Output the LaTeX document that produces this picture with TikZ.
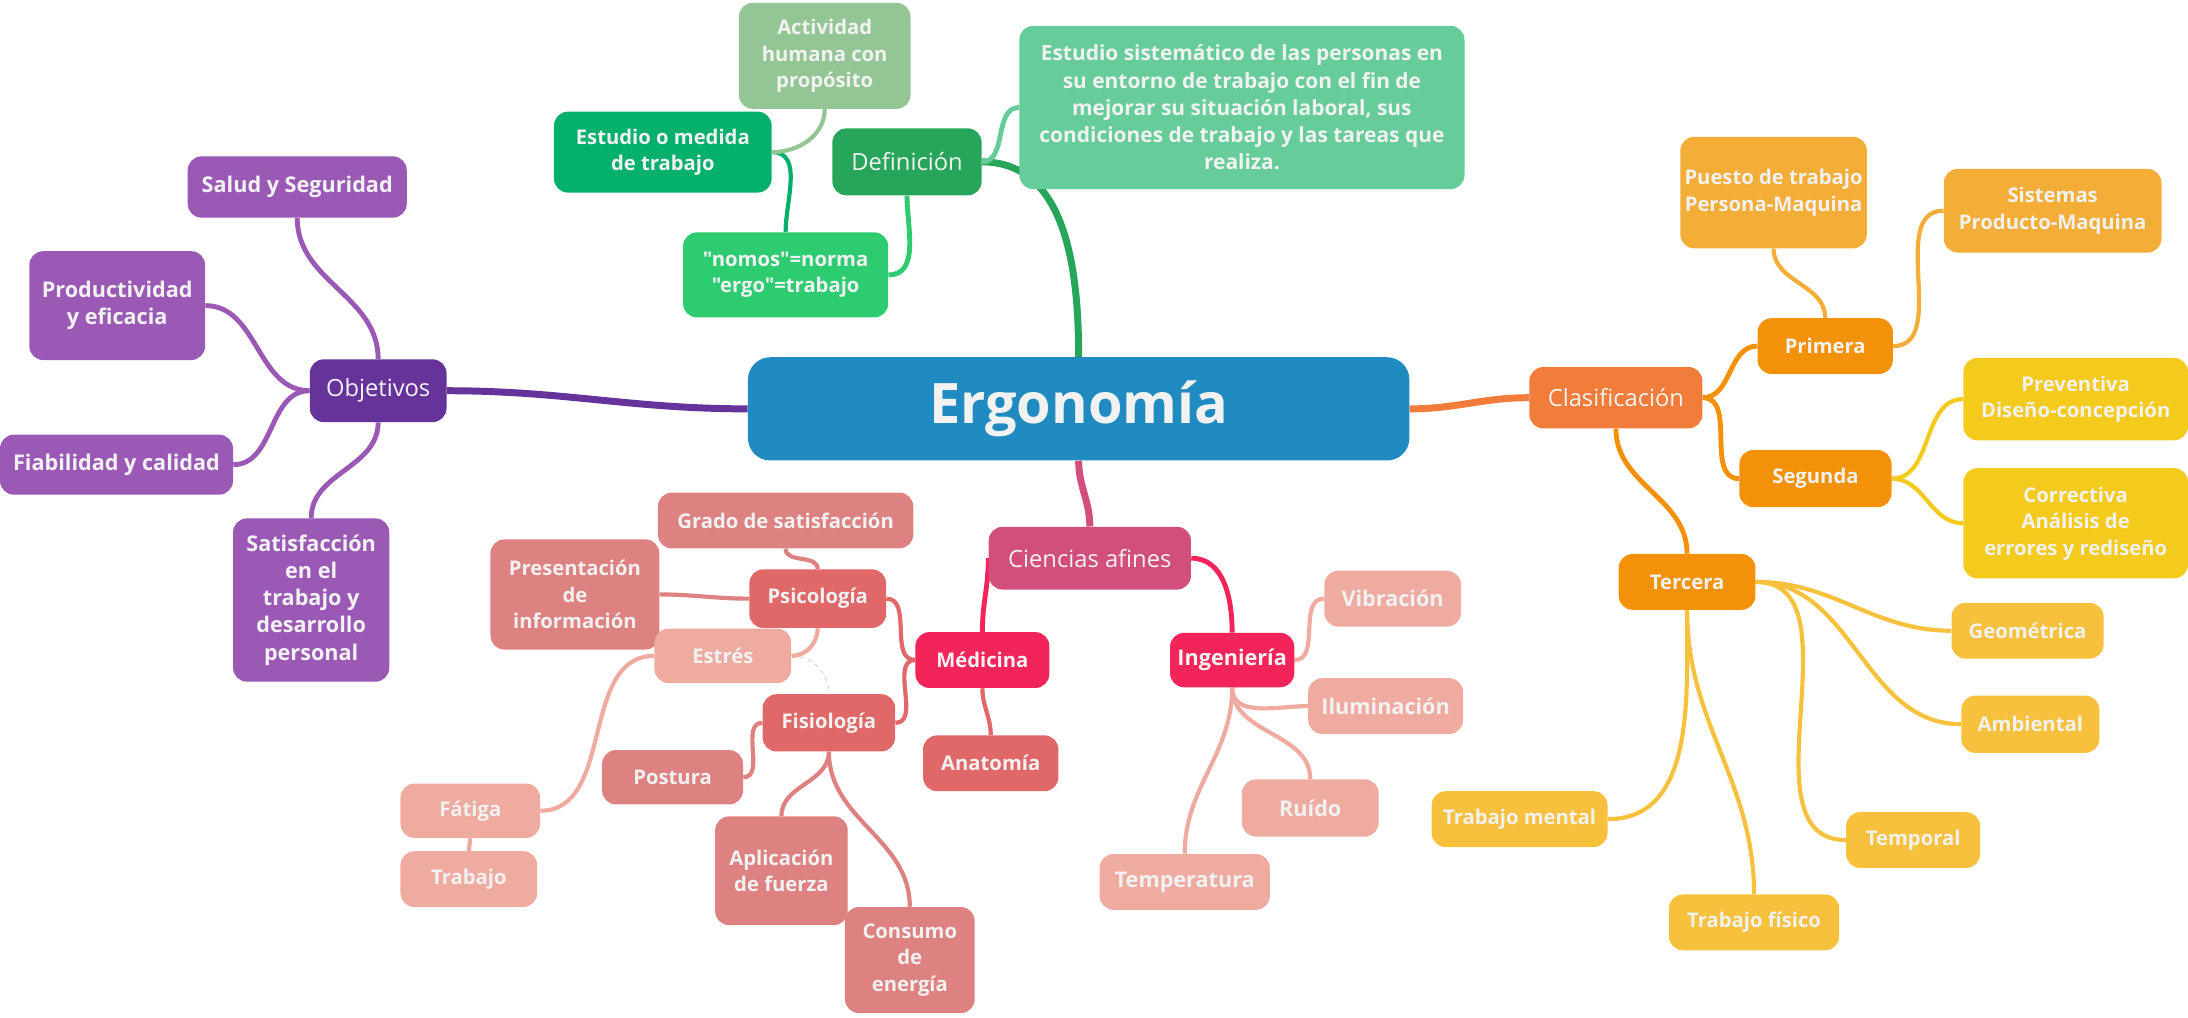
\documentclass[tikz,border=0pt]{standalone}
\usepackage{fontspec}
\setmainfont{Open Sans}[Ligatures=TeXOff]
\usepackage{tikz}
\usetikzlibrary{backgrounds}

\definecolor{ink}{HTML}{F2F2F2}
\definecolor{ergoc}{HTML}{1F8BC1}
\definecolor{defc}{HTML}{27A55A}
\definecolor{activc}{HTML}{93C595}
\definecolor{estc}{HTML}{04B06B}
\definecolor{nomosc}{HTML}{2ECC71}
\definecolor{sistc}{HTML}{66CC99}
\definecolor{objc}{HTML}{66339A}
\definecolor{purpc}{HTML}{9B59B6}
\definecolor{clasc}{HTML}{F27C3A}
\definecolor{orgc}{HTML}{F39208}
\definecolor{lorc}{HTML}{F4AD36}
\definecolor{yelc}{HTML}{F4CB1C}
\definecolor{goldc}{HTML}{F7C13D}
\definecolor{cienc}{HTML}{D14E7D}
\definecolor{redc}{HTML}{F2245A}
\definecolor{coralc}{HTML}{E06868}
\definecolor{rosec}{HTML}{DE8181}
\definecolor{peachc}{HTML}{F0ABA1}

\begin{document}
\begin{tikzpicture}[x=1pt,y=-1pt]
    \tikzstyle{box}=[rounded corners=10pt,text=ink,align=center,inner sep=3pt,font=\fontsize{14.5}{19}\selectfont\bfseries]
    \tikzstyle{wide}=[box,font=\fontsize{15.5}{19.5}\selectfont\bfseries]
    \tikzstyle{head}=[box,font=\fontsize{17}{20}\selectfont]
    \tikzstyle{trunk}=[line width=5pt]
    \tikzstyle{twig}=[line width=3.5pt]
    \tikzstyle{leaf}=[line width=3pt]

    \useasboundingbox (0,0) rectangle (1568,729);

    % centre
    \node[box,fill=ergoc,minimum width=474,minimum height=74,rounded corners=16pt,
          font=\fontsize{40}{48}\selectfont\bfseries] (ergo) at (773,293) {Ergonomía};

    % Definicion
    \node[head,fill=defc,minimum width=107,minimum height=48] (def) at (650,116) {Definición};
    \node[box,fill=activc,minimum width=123,minimum height=76] (activ) at (591,40) {Actividad\\humana con\\propósito};
    \node[box,fill=estc,minimum width=156,minimum height=58] (estudio) at (475,109) {Estudio o medida\\de trabajo};
    \node[box,fill=nomosc,minimum width=147,minimum height=61] (nomos) at (563,197) {"nomos"=norma\\"ergo"=trabajo};
    \node[box,fill=sistc,minimum width=319,minimum height=117,font=\fontsize{15}{19.5}\selectfont\bfseries] (sist) at (890,77)
        {Estudio sistemático de las personas en\\su entorno de trabajo con el fin de\\mejorar su situación laboral, sus\\condiciones de trabajo y las tareas que\\realiza.};

    % Objetivos
    \node[head,fill=objc,minimum width=98,minimum height=45] (obj) at (271,280) {Objetivos};
    \node[wide,fill=purpc,minimum width=157,minimum height=44] (salud) at (213,134) {Salud y Seguridad};
    \node[wide,fill=purpc,minimum width=126,minimum height=78] (prod) at (84,219) {Productividad\\y eficacia};
    \node[wide,fill=purpc,minimum width=167,minimum height=43] (fiab) at (83.5,333) {Fiabilidad y calidad};
    \node[wide,fill=purpc,minimum width=112,minimum height=117] (satis) at (223,430) {Satisfacción\\en el\\trabajo y\\desarrollo\\personal};

    % Clasificacion
    \node[head,fill=clasc,minimum width=124,minimum height=44] (clas) at (1158,285) {Clasificación};
    \node[box,fill=orgc,minimum width=97,minimum height=40] (prim) at (1308,248) {Primera};
    \node[box,fill=orgc,minimum width=109,minimum height=41] (seg) at (1301,343) {Segunda};
    \node[box,fill=orgc,minimum width=98,minimum height=40] (terc) at (1209,417) {Tercera};
    \node[box,fill=lorc,minimum width=131,minimum height=80] (puesto) at (1271,138) {Puesto de trabajo\\Persona-Maquina};
    \node[box,fill=lorc,minimum width=156,minimum height=60] (sistpm) at (1471,151) {Sistemas\\Producto-Maquina};
    \node[box,fill=yelc,minimum width=161,minimum height=59] (prev) at (1487.5,286) {Preventiva\\Diseño-concepción};
    \node[box,fill=yelc,minimum width=161,minimum height=79] (corr) at (1487.5,375) {Correctiva\\Análisis de\\errores y rediseño};
    \node[box,fill=goldc,minimum width=109,minimum height=40] (geo) at (1453,452) {Geométrica};
    \node[box,fill=goldc,minimum width=99,minimum height=41] (amb) at (1455,519) {Ambiental};
    \node[box,fill=goldc,minimum width=96,minimum height=40] (tempo) at (1371,602) {Temporal};
    \node[box,fill=goldc,minimum width=122,minimum height=40] (fisico) at (1257,661) {Trabajo físico};
    \node[box,fill=goldc,minimum width=126,minimum height=40] (mental) at (1089,587) {Trabajo mental};

    % Ciencias afines
    \node[head,fill=cienc,minimum width=145,minimum height=45] (cien) at (781,400) {Ciencias afines};
    \node[box,fill=redc,minimum width=96,minimum height=40] (med) at (704,473) {Médicina};
    \node[wide,fill=redc,minimum width=89,minimum height=39] (ing) at (883,473) {Ingeniería};
    \node[box,fill=coralc,minimum width=98,minimum height=42] (psi) at (586,429) {Psicología};
    \node[box,fill=coralc,minimum width=95,minimum height=41] (fis) at (594,518) {Fisiología};
    \node[box,fill=coralc,minimum width=97,minimum height=40] (anat) at (710,547) {Anatomía};
    \node[box,fill=rosec,minimum width=183,minimum height=40] (grado) at (563,373) {Grado de satisfacción};
    \node[box,fill=rosec,minimum width=121,minimum height=79] (pres) at (412,426) {Presentación\\de\\información};
    \node[box,fill=peachc,minimum width=98,minimum height=39] (estres) at (518,470) {Estrés};
    \node[box,fill=peachc,minimum width=100,minimum height=39] (fatiga) at (337,581) {Fátiga};
    \node[box,fill=peachc,minimum width=98,minimum height=40] (trabajo) at (336,630) {Trabajo};
    \node[box,fill=rosec,minimum width=101,minimum height=39] (postura) at (482,557) {Postura};
    \node[box,fill=rosec,minimum width=95,minimum height=78] (aplic) at (560,624) {Aplicación\\de fuerza};
    \node[box,fill=rosec,minimum width=93,minimum height=76] (consumo) at (652,688) {Consumo\\de\\energía};
    \node[wide,fill=peachc,minimum width=98,minimum height=40] (vib) at (998,429) {Vibración};
    \node[wide,fill=peachc,minimum width=111,minimum height=40] (ilum) at (993,506) {Iluminación};
    \node[wide,fill=peachc,minimum width=98,minimum height=41] (ruido) at (939,579) {Ruído};
    \node[wide,fill=peachc,minimum width=122,minimum height=40] (temper) at (849,632) {Temperatura};

    \begin{scope}[on background layer]
        \fill[white] (0,0) rectangle (1568,729);
        % main branches
        \draw[trunk,defc] (ergo.north) to[out=90,in=0] (def.east);
        \draw[trunk,objc] (ergo.west) to[out=180,in=0] (obj.east);
        \draw[trunk,clasc] (ergo.east) to[out=0,in=180] (clas.west);
        \draw[trunk,cienc] (ergo.south) to[out=-90,in=90] (cien.north);

        \draw[twig,sistc] (def.east) to[out=0,in=180] (sist.west);
        \draw[twig,nomosc] (def.south) to[out=-90,in=0] (nomos.east);
        \draw[leaf,estc] (nomos.north) to[out=90,in=0] (estudio.east);
        \draw[leaf,activc] (estudio.east) to[out=0,in=-90] (activ.south);

        \draw[twig,purpc] (obj.north) to[out=90,in=-90] (salud.south);
        \draw[twig,purpc] (obj.south) to[out=-90,in=90] (satis.north);
        \foreach \to in {prod, fiab}
            \draw[twig,purpc] (obj.west) to[out=180,in=0] (\to.east);

        \foreach \to in {prim, seg}
            \draw[twig,orgc] (clas.east) to[out=0,in=180] (\to.west);
        \draw[twig,orgc] (clas.south) to[out=-90,in=90] (terc.north);
        \draw[leaf,lorc] (prim.north) to[out=90,in=-90] (puesto.south);
        \draw[leaf,lorc] (prim.east) to[out=0,in=180] (sistpm.west);
        \foreach \to in {prev, corr}
            \draw[leaf,yelc] (seg.east) to[out=0,in=180] (\to.west);
        \foreach \to in {geo, amb, tempo}
            \draw[leaf,goldc] (terc.east) to[out=0,in=180] (\to.west);
        \draw[leaf,goldc] (terc.south) to[out=-90,in=0] (mental.east);
        \draw[leaf,goldc] (terc.south) to[out=-90,in=90] (fisico.north);

        \draw[twig,redc] (cien.west) to[out=-90,in=90] (med.north);
        \draw[twig,redc] (cien.east) to[out=0,in=90] (ing.north);
        \foreach \to in {psi, fis}
            \draw[leaf,coralc] (med.west) to[out=180,in=0] (\to.east);
        \draw[leaf,coralc] (med.south) to[out=-90,in=90] (anat.north);
        \draw[leaf,rosec] (psi.north) to[out=90,in=-90] (grado.south);
        \draw[leaf,rosec] (psi.west) to[out=180,in=0] (pres.east);
        \draw[leaf,peachc] (psi.south) to[out=-90,in=0] (estres.east);
        \draw[leaf,peachc] (estres.west) to[out=180,in=0] (fatiga.east);
        \draw[leaf,peachc] (fatiga.south) -- (trabajo.north);
        \draw[leaf,rosec] (fis.west) to[out=180,in=0] (postura.east);
        \foreach \to in {aplic, consumo}
            \draw[leaf,rosec] (fis.south) to[out=-90,in=90] (\to.north);
        \draw[thin,dashed,peachc] (estres.east) to[out=0,in=90] (fis.north);
        \draw[leaf,peachc] (ing.east) to[out=0,in=180] (vib.west);
        \draw[leaf,peachc] (ing.south) to[out=-90,in=180] (ilum.west);
        \foreach \to in {ruido, temper}
            \draw[leaf,peachc] (ing.south) to[out=-90,in=90] (\to.north);
    \end{scope}
\end{tikzpicture}
\end{document}
